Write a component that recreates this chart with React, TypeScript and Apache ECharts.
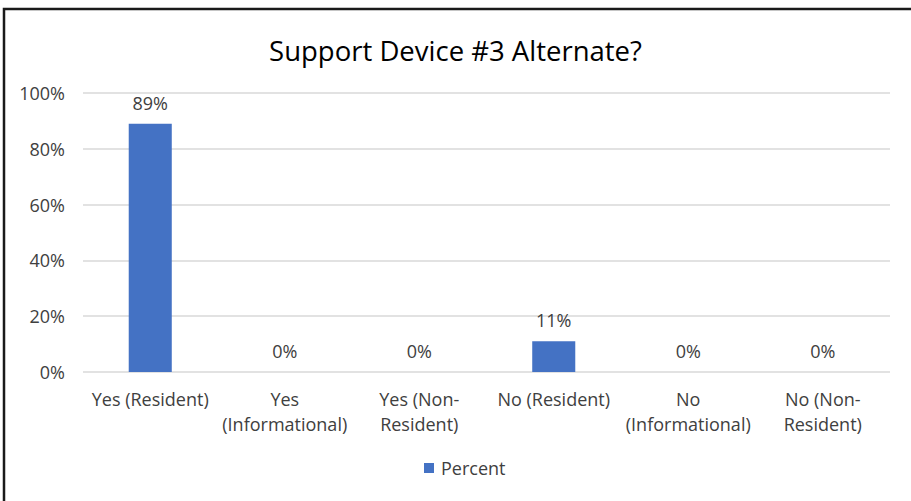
import React, { useEffect, useRef } from "react";
import * as echarts from "echarts";

const categories = [
  "Yes (Resident)",
  "Yes\n(Informational)",
  "Yes (Non-\nResident)",
  "No (Resident)",
  "No\n(Informational)",
  "No (Non-\nResident)",
];
const percentValues = [89, 0, 0, 11, 0, 0];
const yTicks = [0, 20, 40, 60, 80, 100];
const seriesName = "Percent";
const titleText = "Support Device #3 Alternate?";

const FONT = "'Open Sans', 'Noto Sans', sans-serif";

export default function App() {
  const ref = useRef<HTMLDivElement>(null);
  useEffect(() => {
    if (!ref.current) return;
    const chart = echarts.init(ref.current, undefined, { renderer: "svg" });
    chart.setOption({
      animation: false,
      backgroundColor: "#ffffff",
      title: {
        text: titleText,
        left: "center",
        top: 31,
        textStyle: { fontFamily: FONT, fontSize: 27.5, fontWeight: "normal", color: "#000000" },
      },
      grid: { left: 83, right: 21, top: 93, bottom: 129 },
      legend: {
        bottom: 19,
        left: 419,
        itemWidth: 10,
        itemHeight: 10,
        icon: "rect",
        textStyle: { fontFamily: FONT, fontSize: 18, color: "#404040", padding: [0, 0, 0, 2] },
        data: [seriesName],
      },
      xAxis: {
        type: "category",
        data: categories,
        axisLine: { show: false },
        axisTick: { show: false },
        axisLabel: {
          fontFamily: FONT,
          fontSize: 18,
          color: "#404040",
          lineHeight: 25,
          margin: 14,
          interval: 0,
        },
      },
      yAxis: {
        type: "value",
        min: yTicks[0],
        max: yTicks[yTicks.length - 1],
        interval: 20,
        axisLine: { show: false },
        axisTick: { show: false },
        splitLine: { lineStyle: { color: "#D9D9D9", width: 1.5 } },
        axisLabel: {
          fontFamily: FONT,
          fontSize: 18,
          color: "#404040",
          margin: 18,
          formatter: (v: number) => `${v}%`,
        },
      },
      series: [
        {
          name: seriesName,
          type: "bar",
          data: percentValues,
          barWidth: "32%",
          itemStyle: { color: "#4472C4" },
          label: {
            show: true,
            position: "top",
            distance: 12,
            fontFamily: FONT,
            fontSize: 18,
            color: "#404040",
            formatter: (p: any) => `${p.value}%`,
          },
        },
      ],
      graphic: [
        {
          type: "polyline",
          shape: { points: [[4, 501], [4, 9], [911, 9]] },
          style: { stroke: "#1a1a1a", lineWidth: 2.5, fill: "none" },
          silent: true,
        },
      ],
    });
    return () => chart.dispose();
  }, []);
  return (
    <div
      ref={ref}
      style={{ position: "fixed", left: 0, top: 0, width: 911, height: 501 }}
    />
  );
}
